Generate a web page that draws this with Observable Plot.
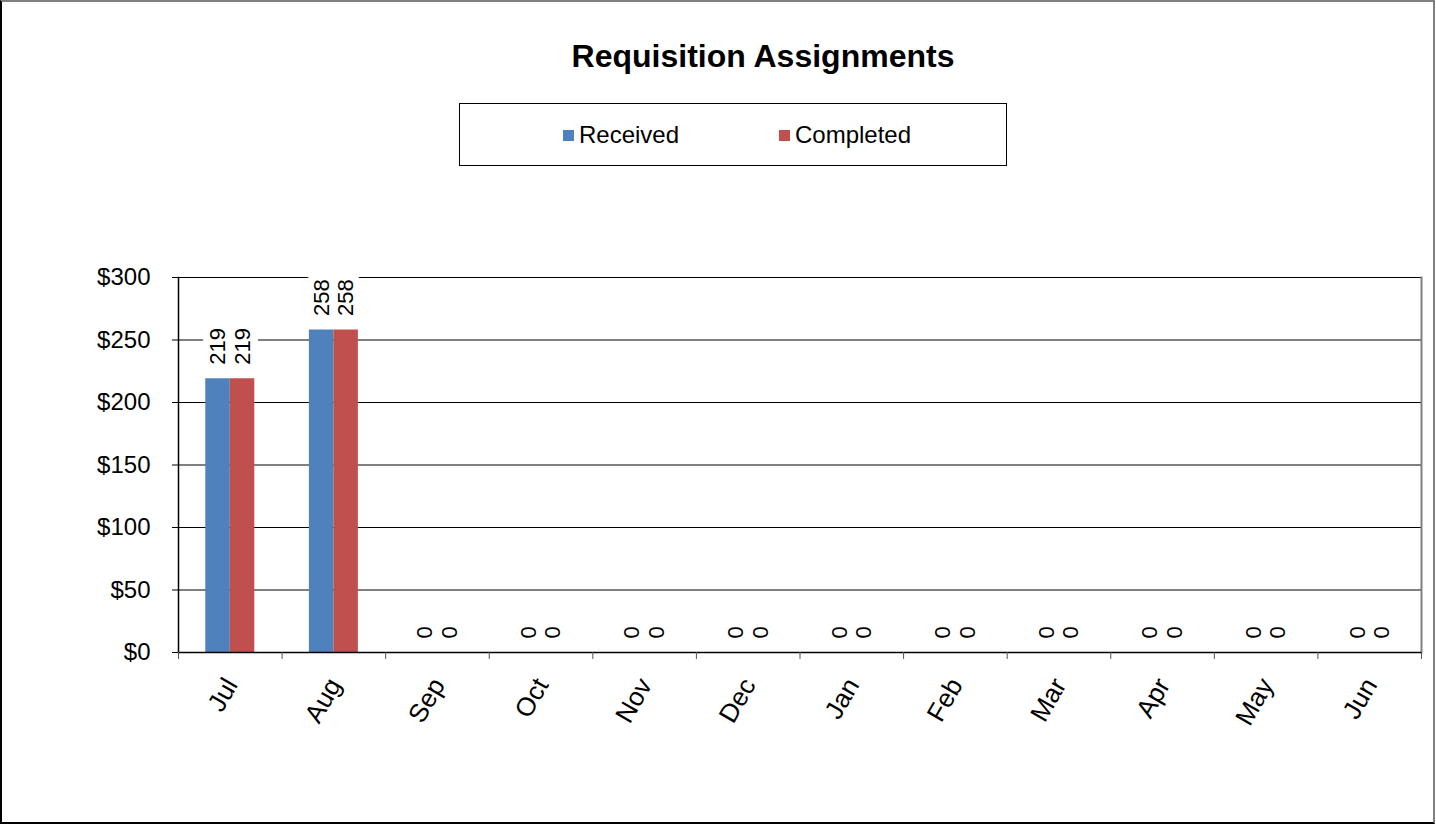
<!DOCTYPE html>
<html>
<head>
<meta charset="utf-8">
<script src="https://cdn.jsdelivr.net/npm/d3@7"></script>
<script src="https://cdn.jsdelivr.net/npm/@observablehq/plot@0.6"></script>
<style>
  html, body { margin: 0; padding: 0; background: #fff; }
  body { width: 1436px; height: 825px; overflow: hidden; font-family: "Liberation Sans", Arial, sans-serif; }
  #frame { position: absolute; left: 0; top: 0; width: 1431px; height: 820px;
    border-top: 2px solid #808080; border-left: 2px solid #000; border-right: 2px solid #808080; border-bottom: 2px solid #000; }
  #title { position: absolute; left: 463px; width: 600px; top: 38px; text-align: center; font-weight: bold; font-size: 32px; color: #000; }
  #legend { position: absolute; left: 459px; top: 103px; width: 548px; height: 63px; border: 1px solid #000; box-sizing: border-box; }
  .item { position: absolute; top: 17px; font-size: 24px; color: #000; display: flex; align-items: center; }
  .sw { display: inline-block; width: 11px; height: 11px; margin-right: 5px; }
  #chart { position: absolute; left: 0; top: 230px; }
</style>
</head>
<body>
<div id="frame"></div>
<div id="title">Requisition Assignments</div>
<div id="legend"></div>
<div id="chart"></div>
<script>
const months = ["Jul","Aug","Sep","Oct","Nov","Dec","Jan","Feb","Mar","Apr","May","Jun"];
const received = [219, 258, 0, 0, 0, 0, 0, 0, 0, 0, 0, 0];
const completed = [219, 258, 0, 0, 0, 0, 0, 0, 0, 0, 0, 0];
const seriesNames = ["Received", "Completed"];
const seriesColors = ["#4F81BD", "#C0504D"];
const yTicks = [0, 50, 100, 150, 200, 250, 300];

const recRows = months.map((m, i) => ({month: m, value: received[i]}));
const comRows = months.map((m, i) => ({month: m, value: completed[i]}));

// legend
const leg = document.getElementById("legend");
const legX = [103, 319];
seriesNames.forEach((s, i) => {
  const d = document.createElement("div");
  d.className = "item";
  d.style.left = legX[i] + "px";
  d.innerHTML = `<span class="sw" style="background:${seriesColors[i]}"></span><span>${s}</span>`;
  leg.appendChild(d);
});

const W = 1436, H = 560, ML = 178, MR = 15, MT = 47, MB = 138;
const step = (W - ML - MR) / months.length;
const barW = 24.5;
const half = step / 2;

const font = {fontSize: 24, fontFamily: "Liberation Sans, Arial, sans-serif"};

const labelOpts = (dx) => ({
  x: "month", y: "value", text: d => String(d.value),
  rotate: -90, textAnchor: "start", lineAnchor: "middle",
  dx: dx, dy: d => 0, fill: "#000", stroke: "#fff", strokeWidth: 16,
  fontSize: 22, fontFamily: "Liberation Sans, Arial, sans-serif"
});

const plot = Plot.plot({
  width: W, height: H,
  marginLeft: ML, marginRight: MR, marginTop: MT, marginBottom: MB,
  style: {fontFamily: "Liberation Sans, Arial, sans-serif", fontSize: "24px", color: "#000", background: "transparent"},
  x: {domain: months, padding: 0, round: false, axis: null},
  y: {domain: [0, 300], axis: null},
  marks: [
    Plot.gridY(yTicks, {stroke: "#000", strokeOpacity: 1, strokeWidth: 1}),
    Plot.barY(recRows, {x: "month", y: "value", fill: seriesColors[0], insetLeft: half - barW, insetRight: half}),
    Plot.barY(comRows, {x: "month", y: "value", fill: seriesColors[1], insetLeft: half, insetRight: half - barW}),
    Plot.text(recRows, {...labelOpts(-barW / 2), dy: -14}),
    Plot.text(comRows, {...labelOpts(barW / 2), dy: -14}),
    Plot.frame({anchor: "right", stroke: "#808080", strokeWidth: 2}),
    Plot.frame({anchor: "left", stroke: "#000", strokeWidth: 1.5}),
    Plot.ruleY([0], {stroke: "#000", strokeWidth: 1.5}),
    Plot.axisY(yTicks, {tickSize: 6, tickPadding: 22, tickFormat: d => "$" + d, stroke: "#000", label: null, ...font}),
    Plot.axisX(months, {tickSize: 7, dx: -half, tickFormat: () => "", stroke: "#555", label: null}),
    Plot.axisX(["Jun"], {tickSize: 7, dx: half, tickFormat: () => "", stroke: "#555", label: null}),
    Plot.axisX(months, {tickSize: 0, tickPadding: 28, tickRotate: -60, dx: 1, label: null, fontSize: 26, fontFamily: "Liberation Sans, Arial, sans-serif"})
  ]
});
document.getElementById("chart").appendChild(plot);
</script>
</body>
</html>
